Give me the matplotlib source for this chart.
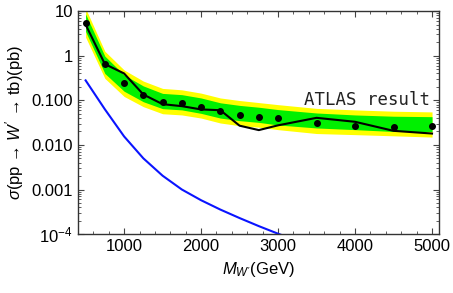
import numpy as np
import matplotlib
matplotlib.use('Agg')
import matplotlib.pyplot as plt
from matplotlib.ticker import FixedLocator, MultipleLocator, LogLocator, NullFormatter

plt.rcParams['font.family'] = ['Liberation Sans', 'DejaVu Sans']
plt.rcParams['mathtext.fontset'] = 'custom'
plt.rcParams['mathtext.rm'] = 'Liberation Sans'
plt.rcParams['mathtext.it'] = 'Liberation Sans:italic'

# W' masses (GeV)
mass = [500, 750, 1000, 1250, 1500, 1750, 2000, 2250, 2500, 2750, 3000, 3500, 4000, 4500, 5000]

# ATLAS limits (pb)
expected = [5.5, 0.65, 0.25, 0.135, 0.091, 0.087, 0.072, 0.059, 0.048, 0.043, 0.040, 0.031, 0.027, 0.025, 0.027]
observed = [5.0, 0.65, 0.40, 0.135, 0.082, 0.074, 0.0625, 0.060, 0.027, 0.0215, 0.0275, 0.0405, 0.033, 0.0207, 0.018]
band_hi2 = [11.5, 1.26, 0.48, 0.27, 0.185, 0.172, 0.145, 0.113, 0.099, 0.089, 0.080, 0.066, 0.061, 0.057, 0.055]
band_hi1 = [8.6, 0.98, 0.37, 0.21, 0.143, 0.134, 0.113, 0.088, 0.077, 0.070, 0.062, 0.052, 0.047, 0.044, 0.043]
band_lo1 = [3.5, 0.40, 0.16, 0.093, 0.065, 0.061, 0.051, 0.040, 0.035, 0.032, 0.028, 0.024, 0.022, 0.020, 0.020]
band_lo2 = [2.6, 0.31, 0.122, 0.072, 0.050, 0.047, 0.040, 0.031, 0.027, 0.025, 0.022, 0.018, 0.017, 0.016, 0.015]

# model prediction
theory_mass = [500, 750, 1000, 1250, 1500, 1750, 2000, 2250, 2500, 2750, 3000, 3250]
theory_xsec = [0.28, 0.063, 0.0155, 0.0050, 0.00204, 0.0010, 5.75e-4, 3.55e-4, 2.29e-4, 1.51e-4, 1.02e-4, 7.1e-5]

y_ticks = [1e-4, 1e-3, 1e-2, 1e-1, 1, 10]
y_labels = ['$10^{-4}$', '0.001', '0.010', '0.100', '1', '10']

fig = plt.figure(figsize=(4.53, 2.93), dpi=100)
ax = fig.add_axes([0.172, 0.201, 0.797, 0.761])

ax.fill_between(mass, band_lo2, band_hi2, color='#ffff00', linewidth=0)
ax.fill_between(mass, band_lo1, band_hi1, color='#00f000', linewidth=0)
ax.plot(mass, observed, color='black', linewidth=1.5)
ax.plot(mass, expected, 'o', color='black', markersize=4)
ax.plot(theory_mass, theory_xsec, color='#0a14ff', linewidth=1.5)

ax.text(4970, 0.1, 'ATLAS result', family='DejaVu Sans Mono', fontsize=12.5,
        ha='right', va='center', color='#222222')

ax.set_yscale('log')
ax.set_xlim(400, 5090)
ax.set_ylim(1e-4, 10)

ax.xaxis.set_major_locator(FixedLocator([1000, 2000, 3000, 4000, 5000]))
ax.xaxis.set_minor_locator(MultipleLocator(200))
ax.yaxis.set_major_locator(FixedLocator(y_ticks))
ax.set_yticklabels(y_labels)
ax.yaxis.set_minor_locator(LogLocator(base=10, subs=np.arange(2, 10), numticks=20))
ax.yaxis.set_minor_formatter(NullFormatter())

ax.tick_params(which='both', direction='in', top=True, right=True, labelsize=12,
               color='#444444')
ax.tick_params(which='major', length=4, width=0.8)
ax.tick_params(which='minor', length=2, width=0.6)
for s in ax.spines.values():
    s.set_color('#333333')
    s.set_linewidth(1.0)

ax.set_xlabel(r"$M_{W^{\prime}}$(GeV)", fontsize=12)
ax.set_ylabel("$\\sigma$(pp \u2192 $W^{\\prime}$ \u2192 tb)(pb)", fontsize=12)

fig.savefig('out.png', dpi=100)
